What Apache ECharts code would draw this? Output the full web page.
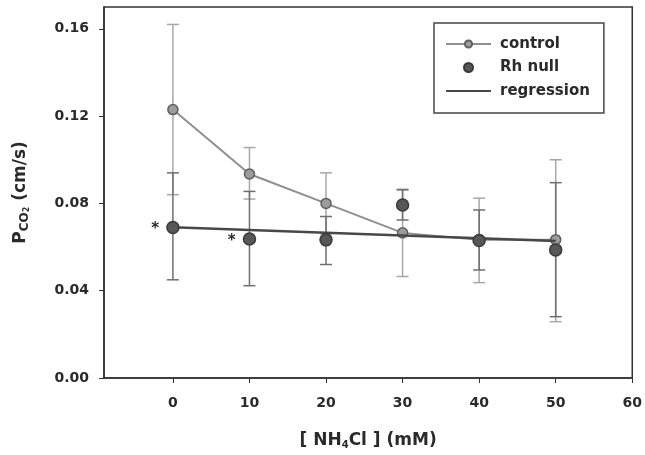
<!DOCTYPE html>
<html>
<head>
<meta charset="utf-8">
<script src="https://cdn.jsdelivr.net/npm/echarts@6/dist/echarts.min.js"></script>
<style>
html,body{margin:0;padding:0;background:#fff;}
#chart{width:645px;height:455px;}
</style>
</head>
<body>
<div id="chart"></div>
<script>
// ---- data ----
var xValues = [0, 10, 20, 30, 40, 50];
var controlMean = [0.123, 0.0935, 0.080, 0.0665, 0.0634, 0.0634];
var controlLow  = [0.084, 0.082, 0.066, 0.0465, 0.0437, 0.0258];
var controlHigh = [0.162, 0.1056, 0.094, 0.0865, 0.0824, 0.100];
var rhMean = [0.069, 0.0637, 0.0633, 0.0793, 0.063, 0.0587];
var rhLow  = [0.045, 0.0423, 0.052, 0.0724, 0.0495, 0.0281];
var rhHigh = [0.094, 0.0855, 0.074, 0.0862, 0.077, 0.0895];
var rhMarks = ['*', '*', '', '', '', ''];
var regressionX = [0, 50];
var regressionY = [0.0691, 0.0628];
var xTicks = [0, 10, 20, 30, 40, 50, 60];
var yTicks = [0, 0.04, 0.08, 0.12, 0.16];

function pairs(xs, ys) { return xs.map(function (x, i) { return [x, ys[i]]; }); }
function triples(xs, lo, hi) { return xs.map(function (x, i) { return [x, lo[i], hi[i]]; }); }

function errorBar(color) {
  return function (params, api) {
    var top = api.coord([api.value(0), api.value(2)]);
    var bot = api.coord([api.value(0), api.value(1)]);
    var hw = 6;
    var style = { stroke: color, lineWidth: 1.5, fill: null };
    return {
      type: 'group',
      children: [
        { type: 'line', shape: { x1: top[0], y1: top[1], x2: bot[0], y2: bot[1] }, style: style },
        { type: 'line', shape: { x1: top[0] - hw, y1: top[1], x2: top[0] + hw, y2: top[1] }, style: style },
        { type: 'line', shape: { x1: bot[0] - hw, y1: bot[1], x2: bot[0] + hw, y2: bot[1] }, style: style }
      ]
    };
  };
}

var rhData = xValues.map(function (x, i) {
  return { value: [x, rhMean[i]], label: { show: rhMarks[i] !== '', formatter: rhMarks[i] } };
});

var font = '"DejaVu Sans", Arial, sans-serif';
var txt = '#2a2a2a';
// thin horizontal bar with invisible specks fixing its bounding box to the legend item box (45 x 9)
var lineIcon = 'path://M0,3.5L45,3.5L45,5.5L0,5.5Z M0,0L0.01,0L0.01,0.01Z M0,8.99L0.01,8.99L0.01,9Z';

var chart = echarts.init(document.getElementById('chart'));
chart.setOption({
  animation: false,
  backgroundColor: '#fff',
  grid: { left: 104, right: 11, top: 7, bottom: 77, show: true, borderColor: '#333', borderWidth: 1.5 },
  legend: {
    orient: 'vertical',
    left: 434, top: 23,
    padding: [12, 14, 13, 11],
    itemWidth: 45, itemHeight: 9, itemGap: 5.5,
    borderColor: '#444', borderWidth: 1.5,
    textStyle: { fontFamily: font, fontWeight: 'bold', fontSize: 15, lineHeight: 18, color: txt, padding: [0, 0, 0, 4] },
    data: ['control', 'Rh null', { name: 'regression', icon: lineIcon }]
  },
  xAxis: {
    type: 'value', min: -9, max: 60,
    name: '[ {s|NH}{sub|4}{s|Cl} ] (mM)',
    nameLocation: 'middle', nameGap: 53,
    nameTextStyle: {
      fontFamily: font, fontWeight: 'bold', fontSize: 17, color: txt,
      rich: {
        s: { fontFamily: font, fontWeight: 'bold', fontSize: 17, color: txt },
        sub: { fontFamily: font, fontWeight: 'bold', fontSize: 10, color: txt, verticalAlign: 'bottom', padding: [9, 0, 0, 0] }
      }
    },
    axisLine: { show: true, onZero: false, lineStyle: { color: '#333', width: 1.5 } },
    axisTick: { show: true, length: 5, customValues: xTicks, lineStyle: { color: '#333' } },
    axisLabel: { customValues: xTicks, fontFamily: font, fontWeight: 'bold', fontSize: 14, color: txt, margin: 18 },
    splitLine: { show: false }
  },
  yAxis: {
    type: 'value', min: 0, max: 0.17,
    name: '{p|P}{sub|CO}{sub2|2}{p| (cm/s)}',
    nameLocation: 'middle', nameGap: 73, nameRotate: 90,
    nameTextStyle: {
      fontFamily: font, fontWeight: 'bold', fontSize: 17, color: txt,
      rich: {
        p: { fontFamily: font, fontWeight: 'bold', fontSize: 17, color: txt },
        sub: { fontFamily: font, fontWeight: 'bold', fontSize: 12, color: txt, verticalAlign: 'bottom', padding: [8, 0, 0, 0] },
        sub2: { fontFamily: font, fontWeight: 'bold', fontSize: 8, color: txt, verticalAlign: 'bottom', padding: [13, 0, 0, 0] }
      }
    },
    axisLine: { show: true, onZero: false, lineStyle: { color: '#333', width: 1.5 } },
    axisTick: { show: true, length: 5, customValues: yTicks, lineStyle: { color: '#333' } },
    axisLabel: {
      customValues: yTicks, fontFamily: font, fontWeight: 'bold', fontSize: 14, color: txt, margin: 15,
      formatter: function (v) { return v.toFixed(2); }
    },
    splitLine: { show: false }
  },
  series: [
    {
      name: 'control-err', type: 'custom', renderItem: errorBar('#a8a8a8'),
      data: triples(xValues, controlLow, controlHigh), z: 1, silent: true
    },
    {
      name: 'rh-err', type: 'custom', renderItem: errorBar('#6e6e6e'),
      data: triples(xValues, rhLow, rhHigh), z: 1, silent: true
    },
    {
      name: 'control', type: 'line', data: pairs(xValues, controlMean),
      symbol: 'circle', symbolSize: 10,
      lineStyle: { color: '#8f8f8f', width: 2 },
      itemStyle: { color: '#9c9c9c', borderColor: '#5e5e5e', borderWidth: 1.5 },
      z: 3
    },
    {
      name: 'regression', type: 'line', data: pairs(regressionX, regressionY),
      symbol: 'none', lineStyle: { color: '#484848', width: 2.5 }, itemStyle: { color: '#484848' }, z: 4
    },
    {
      name: 'Rh null', type: 'scatter', data: rhData,
      symbol: 'circle', symbolSize: 12,
      itemStyle: { color: '#575757', borderColor: '#3a3a3a', borderWidth: 1.5, opacity: 1 },
      label: { position: 'left', distance: 7, fontFamily: font, fontWeight: 'bold', fontSize: 15, color: txt, offset: [0, 2] },
      z: 5
    }
  ]
});
</script>
</body>
</html>
